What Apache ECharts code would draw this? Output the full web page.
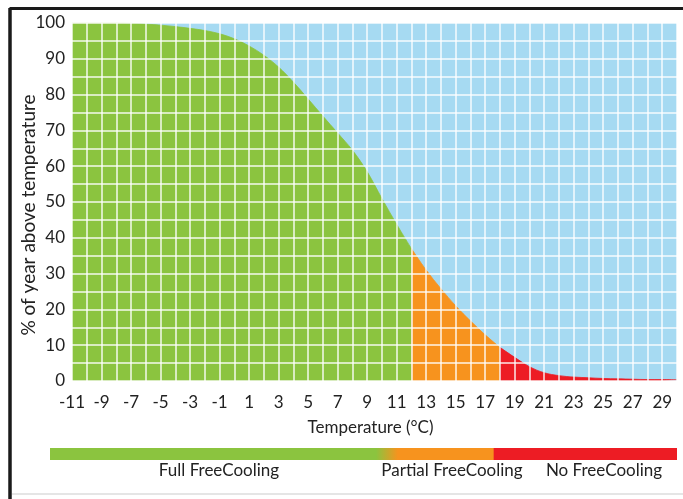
<!DOCTYPE html>
<html><head><meta charset="utf-8">
<script src="https://cdn.jsdelivr.net/npm/echarts@6/dist/echarts.min.js"></script>
<style>html,body{margin:0;padding:0;background:#fff}#c{width:683px;height:499px}</style>
</head><body><div id="c"></div>
<script>
// Temperature (°C) and % of the year above that temperature
const temps = [-11,-10,-9,-8,-7,-6,-5,-4,-3,-2,-1,0,1,2,3,4,5,6,7,8,9,10,11,12,13,14,15,16,17,18,19,20,21,22,23,24,25,26,27,28,29,30];
const pctAbove = [100,100,100,100,99.9,99.7,99.4,99.0,98.5,97.9,97.0,95.6,93.6,91.0,87.7,83.5,78.8,74.0,69.3,64.5,58.5,51.0,43.8,37.0,31.0,25.8,21.0,16.8,12.9,9.4,6.6,4.0,2.3,1.5,1.1,0.9,0.7,0.6,0.5,0.4,0.4,0.3];
// zone limits (°C): Full FreeCooling up to 12, Partial up to 18, none above
const zoneNames = ['Full FreeCooling','Partial FreeCooling','No FreeCooling'];
const zoneStarts = [-11, 12, 18];
const zoneEnds = [12, 18, 30];
const zoneColors = ['#8bc43f','#f7931e','#ed1c24'];
const xMin = -11, xMax = 30, yMin = 0, yMax = 100;
const xAxisTitle = 'Temperature (°C)';
const yAxisTitle = '% of year above temperature';

const FONT = 'Lato';
const series = zoneNames.map((name, i) => ({
  name: name,
  type: 'line',
  smooth: 0.35,
  symbol: 'none',
  lineStyle: {width: 0.8, color: zoneColors[i]},
  areaStyle: {color: zoneColors[i], opacity: 1},
  z: 2,
  data: temps.map((t, k) => [t, pctAbove[k]]).filter(p => p[0] >= zoneStarts[i] && p[0] <= zoneEnds[i])
}));

const chart = echarts.init(document.getElementById('c'), null, {renderer: 'canvas'});
chart.setOption({
  animation: false,
  backgroundColor: '#ffffff',
  grid: {left: 72, top: 23, right: 6, bottom: 118, show: true, backgroundColor: '#a6daf2', borderWidth: 0},
  xAxis: {
    type: 'value', min: xMin, max: xMax, interval: 1, z: 5,
    name: xAxisTitle, nameLocation: 'middle', nameGap: 38, nameMoveOverlap: false,
    nameTextStyle: {fontFamily: FONT, fontSize: 17, color: '#222', padding: [0, 8, 0, 0]},
    axisLine: {show: false}, axisTick: {show: false},
    axisLabel: {fontFamily: FONT, fontSize: 17, color: '#222', margin: 13,
      formatter: v => ((v - xMin) % 2 === 0 && v < xMax) ? String(v) : ''},
    splitLine: {show: true, lineStyle: {color: '#ffffff', width: 1.5, opacity: 0.9}}
  },
  yAxis: {
    type: 'value', min: yMin, max: yMax, interval: 5, z: 5,
    name: yAxisTitle, nameLocation: 'middle', nameGap: 34, nameMoveOverlap: false,
    nameTextStyle: {fontFamily: FONT, fontSize: 19, color: '#222', padding: [0, 26, 0, 0]},
    axisLine: {show: false}, axisTick: {show: false},
    axisLabel: {fontFamily: FONT, fontSize: 17, color: '#222', margin: 7,
      formatter: v => (v % 10 === 0) ? String(v) : ''},
    splitLine: {show: true, lineStyle: {color: '#ffffff', width: 1.5, opacity: 0.9}}
  },
  series: series,
  graphic: [
    {type: 'line', shape: {x1: 9.5, y1: 8.5, x2: 683, y2: 8.5}, style: {stroke: '#1a1a1a', lineWidth: 3}},
    {type: 'line', shape: {x1: 10, y1: 8, x2: 10, y2: 499}, style: {stroke: '#1a1a1a', lineWidth: 3.5}},
    {type: 'line', shape: {x1: 12, y1: 494, x2: 683, y2: 494}, style: {stroke: '#dddddd', lineWidth: 1.5}},
    {type: 'rect', shape: {x: 50, y: 448, width: 627, height: 12},
      style: {fill: new echarts.graphic.LinearGradient(0, 0, 1, 0, [
        {offset: 0, color: zoneColors[0]}, {offset: 0.52, color: zoneColors[0]},
        {offset: 0.555, color: zoneColors[1]}, {offset: 0.707, color: zoneColors[1]},
        {offset: 0.708, color: zoneColors[2]}, {offset: 1, color: zoneColors[2]}])}},
    {type: 'text', x: 219, y: 471, style: {text: zoneNames[0], fontFamily: FONT, fontSize: 17, fill: '#222', textAlign: 'center', textVerticalAlign: 'middle'}},
    {type: 'text', x: 452, y: 471, style: {text: zoneNames[1], fontFamily: FONT, fontSize: 17, fill: '#222', textAlign: 'center', textVerticalAlign: 'middle'}},
    {type: 'text', x: 604, y: 471, style: {text: zoneNames[2], fontFamily: FONT, fontSize: 17, fill: '#222', textAlign: 'center', textVerticalAlign: 'middle'}}
  ]
});
</script></body></html>
